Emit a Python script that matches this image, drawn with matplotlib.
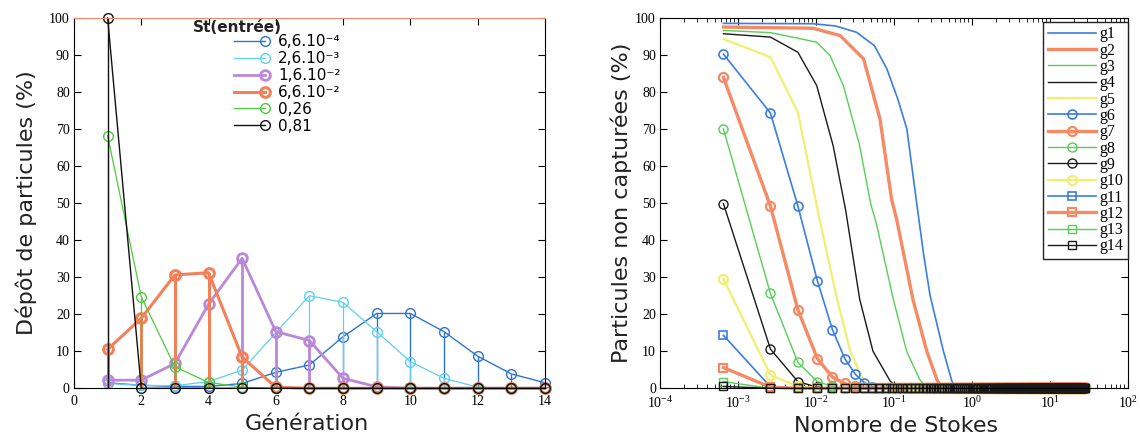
import numpy as np
import matplotlib
matplotlib.use("Agg")
import matplotlib.pyplot as plt
from matplotlib.legend_handler import HandlerLine2D
from matplotlib.ticker import MultipleLocator, LogLocator, NullFormatter

plt.rcParams['font.family'] = 'Liberation Serif'
plt.rcParams['mathtext.fontset'] = 'stix'

######################################################################
# Left panel: deposition (%) per generation, one curve per inlet Stokes
generation = list(range(1, 15))
st_labels = ["6,6.10\u207b\u2074", "2,6.10\u207b\u00b3", "1,6.10\u207b\u00b2",
             "6,6.10\u207b\u00b2", "0,26", "0,81"]
depot_66e4 = [1.5, 0.8, 0.5, 0.5, 1.3, 4.3, 6.3, 13.9, 20.2, 20.2, 15.3, 8.7, 3.9, 1.5]
depot_26e3 = [1.3, 0.8, 0.7, 1.8, 4.9, 15.0, 25.0, 23.2, 15.3, 7.2, 2.7, 0.3, 0.0, 0.0]
depot_16e2 = [2.2, 2.2, 6.7, 22.7, 35.1, 15.3, 12.9, 2.7, 0.4, 0.0, 0.0, 0.0, 0.0, 0.0]
depot_66e2 = [10.5, 18.9, 30.6, 31.2, 8.4, 0.3, 0.0, 0.0, 0.0, 0.0, 0.0, 0.0, 0.0, 0.0]
depot_026 = [68.2, 24.7, 5.8, 1.6, 0.3, 0.0, 0.0, 0.0, 0.0, 0.0, 0.0, 0.0, 0.0, 0.0]
depot_081 = [100.0, 0.0, 0.0, 0.0, 0.0, 0.0, 0.0, 0.0, 0.0, 0.0, 0.0, 0.0, 0.0, 0.0]

######################################################################
# Right panel: non captured particles (%) vs Stokes number, per generation.
# Stokes samples follow the particle diameter grid (St ~ d^2).
st_grid = 6.5e-4 * np.arange(1, 208) ** 2

# smooth curves g1..g5 read at a few Stokes values
g1_st = [6.5e-4, 9.1e-3, 0.0178, 0.033, 0.056, 0.081, 0.112, 0.146, 0.195, 0.24, 0.29, 0.43, 0.55, 0.62, 28.0]
g1_val = [98.5, 98.4, 97.8, 96.1, 92.5, 86.2, 78.0, 70.0, 50.0, 36.0, 25.0, 10.0, 2.0, 0.0, 0.0]
g2_st = [6.5e-4, 9.1e-3, 0.0204, 0.0407, 0.066, 0.093, 0.108, 0.175, 0.263, 0.355, 0.41, 28.0]
g2_val = [97.5, 97.2, 95.2, 88.9, 72.7, 51.0, 45.6, 23.9, 10.0, 2.3, 0.0, 0.0]
g3_st = [6.5e-4, 2.6e-3, 5.85e-3, 0.0102, 0.0151, 0.0224, 0.0363, 0.050, 0.060, 0.098, 0.145, 0.214, 0.263, 28.0]
g3_val = [96.6, 96.0, 94.5, 93.4, 89.8, 81.7, 65.4, 50.0, 44.0, 24.0, 10.0, 2.3, 0.0, 0.0]
g4_st = [6.5e-4, 2.6e-3, 5.85e-3, 0.0102, 0.0166, 0.024, 0.0363, 0.0537, 0.089, 0.1135, 28.0]
g4_val = [95.7, 94.8, 90.7, 81.7, 65.4, 48.0, 24.0, 10.0, 2.0, 0.0, 0.0]
g5_st = [6.5e-4, 2.6e-3, 5.85e-3, 0.0105, 0.0186, 0.0275, 0.0407, 0.049, 28.0]
g5_val = [94.3, 89.4, 74.5, 48.0, 24.0, 10.0, 2.0, 0.0, 0.0]

# curves with markers g6..g14, first grid points (the rest is 0)
g6_head = [90.2, 74.3, 49.2, 29.0, 15.8, 8.0, 3.8, 1.5, 0.4]
g7_head = [83.9, 49.2, 21.2, 8.0, 3.0, 1.3, 0.5]
g8_head = [70.0, 25.6, 7.0, 1.8, 0.5]
g9_head = [49.8, 10.6, 1.8, 0.3]
g10_head = [29.5, 3.6, 0.5]
g11_head = [14.3, 0.4]
g12_head = [5.6, 0.3]
g13_head = [1.8, 0.0]
g14_head = [0.5, 0.0]


def pad(head):
    out = np.zeros(len(st_grid))
    out[:len(head)] = head
    return out


class MarkerAtEnd(HandlerLine2D):
    # legend line with the marker drawn at its right end
    def create_artists(self, legend, orig_handle, xdescent, ydescent,
                       width, height, fontsize, trans):
        artists = super().create_artists(legend, orig_handle, xdescent, ydescent,
                                         width, height, fontsize, trans)
        line = artists[0]
        line.set_markevery([len(line.get_xdata()) - 1])
        return artists


fig = plt.figure(figsize=(11.4, 4.4), dpi=100)
ax1 = fig.add_axes([0.0649, 0.1175, 0.413, 0.842])
ax2 = fig.add_axes([0.579, 0.1175, 0.4105, 0.842])

######################################################################
# Left panel
left_series = [depot_66e4, depot_26e3, depot_16e2, depot_66e2, depot_026, depot_081]
left_colors = ['#2f74d0', '#5fd0f0', '#bb88d8', '#f4805a', '#4ccc3c', '#111111']
left_lw = [1.0, 0.9, 2.0, 2.2, 0.9, 1.0]
handles = []
for vals, col, lw, lab in zip(left_series, left_colors, left_lw, st_labels):
    ax1.vlines(generation, 0, vals, colors=col, linewidth=lw)
    h, = ax1.plot(generation, vals, color=col, lw=lw, marker='o', ms=7,
                  mfc='none', mec=col, mew=max(lw, 1.0), label=lab, clip_on=False)
    handles.append(h)

ax1.set_xlim(0, 14)
ax1.set_ylim(0, 100)
ax1.xaxis.set_major_locator(MultipleLocator(2))
ax1.yaxis.set_major_locator(MultipleLocator(10))
ax1.tick_params(direction='in', top=True, right=True, length=5, labelsize=10, pad=3)
ax1.tick_params(axis='x', pad=5)
ax1.spines['top'].set_color('#f08a6a')
ax1.set_ylabel("Dépôt de particules (%)", family='DejaVu Sans', fontsize=16, color='#222222')
ax1.set_xlabel("Génération", family='DejaVu Sans', fontsize=16, color='#222222')
ax1.yaxis.set_label_coords(-0.079, 0.5)
ax1.xaxis.set_label_coords(0.495, -0.07)

ax1.text(0.253, 0.975, "St(entrée)", transform=ax1.transAxes, family='DejaVu Sans',
         fontsize=11, fontweight='bold', va='center', ha='left', color='#222222')
ax1.legend(handles=handles, loc='upper left', bbox_to_anchor=(0.34, 0.955),
           frameon=False, prop={'family': 'DejaVu Sans', 'size': 11},
           handlelength=2.0, handletextpad=0.9, labelspacing=0.12, borderpad=0,
           borderaxespad=0, numpoints=1,
           handler_map={h: MarkerAtEnd() for h in handles})

######################################################################
# Right panel
blue, orange, green, black, yellow = '#3a7ee0', '#f58a64', '#55d055', '#1a1a1a', '#f2ee70'

ax2.plot(g1_st, g1_val, color=blue, lw=1.2, label='g1')
ax2.plot(g2_st, g2_val, color=orange, lw=2.4, label='g2')
ax2.plot(g3_st, g3_val, color=green, lw=1.0, label='g3')
ax2.plot(g4_st, g4_val, color=black, lw=1.0, label='g4')
ax2.plot(g5_st, g5_val, color=yellow, lw=1.6, label='g5')

marked = [
    (g6_head, blue, 1.2, 'o', 'g6'),
    (g7_head, orange, 2.4, 'o', 'g7'),
    (g8_head, green, 1.0, 'o', 'g8'),
    (g9_head, black, 1.0, 'o', 'g9'),
    (g10_head, yellow, 1.6, 'o', 'g10'),
    (g11_head, blue, 1.2, 's', 'g11'),
    (g12_head, orange, 2.4, 's', 'g12'),
    (g13_head, green, 1.0, 's', 'g13'),
    (g14_head, black, 1.0, 's', 'g14'),
]
for head, col, lw, mk, lab in marked:
    ms = 6.5 if mk == 'o' else 5.5
    ax2.plot(st_grid, pad(head), color=col, lw=lw, marker=mk, ms=ms, mfc='none',
             mec=col, mew=min(lw, 1.6), label=lab, clip_on=False)

ax2.set_xscale('log')
ax2.set_xlim(1e-4, 1e2)
ax2.set_ylim(0, 100)
ax2.xaxis.set_major_locator(LogLocator(base=10, numticks=10))
ax2.xaxis.set_minor_locator(LogLocator(base=10, subs=np.arange(2, 10), numticks=20))
ax2.xaxis.set_minor_formatter(NullFormatter())
ax2.yaxis.set_major_locator(MultipleLocator(10))
ax2.tick_params(which='both', direction='in', top=True, right=True, labelsize=10, pad=3)
ax2.tick_params(axis='x', which='major', pad=5)
ax2.tick_params(which='major', length=5)
ax2.tick_params(which='minor', length=3)
ax2.set_ylabel("Particules non capturées (%)", family='DejaVu Sans', fontsize=16, color='#222222')
ax2.set_xlabel("Nombre de Stokes", family='DejaVu Sans', fontsize=16, color='#222222')
ax2.yaxis.set_label_coords(-0.06, 0.5)
ax2.xaxis.set_label_coords(0.504, -0.075)

leg = ax2.legend(loc='upper right', bbox_to_anchor=(1.0, 0.99), fancybox=False,
                 edgecolor='#222222', framealpha=1, prop={'family': 'Liberation Serif', 'size': 11.5},
                 handlelength=3.0, handletextpad=0.2, labelspacing=0.02, borderpad=0.3,
                 borderaxespad=0, numpoints=1)
leg.get_frame().set_linewidth(1.0)

fig.savefig("out.png", dpi=100)
